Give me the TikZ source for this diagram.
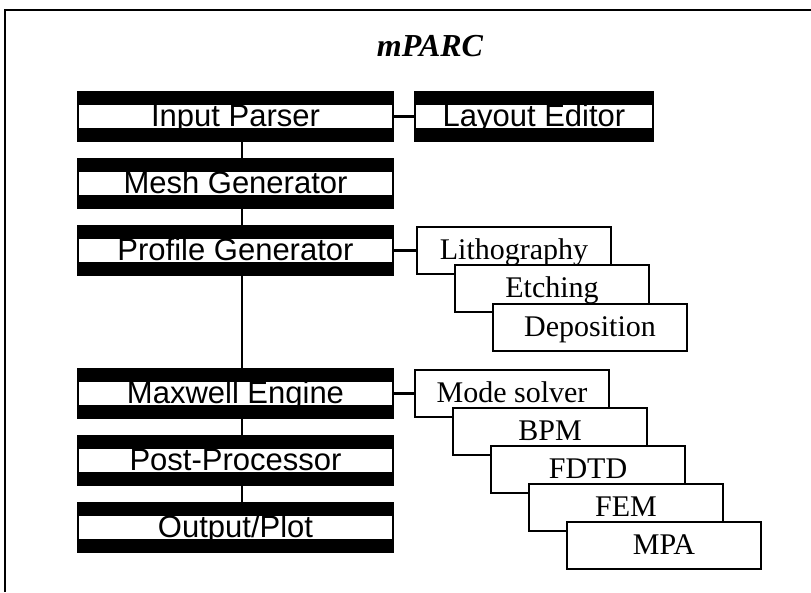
\documentclass[tikz,border=0pt]{standalone}
\usepackage{fontspec}
\setmainfont{Liberation Serif}
\setsansfont{Liberation Sans}
\usetikzlibrary{positioning}
\begin{document}
\begin{tikzpicture}[x=1pt,y=1pt,
  bar/.style={draw,line width=2.5pt,fill=white,minimum width=315pt,minimum height=49pt,inner sep=0pt,outer sep=0pt,
    text height=20pt,text depth=0pt,font=\sffamily\fontsize{31}{31}\selectfont,
    path picture={\fill[black] (path picture bounding box.north west) rectangle ([yshift=-13pt]path picture bounding box.north east);
      \fill[black] (path picture bounding box.south west) rectangle ([yshift=13pt]path picture bounding box.south east);}},
  sbox/.style={draw,line width=2pt,fill=white,minimum width=194pt,minimum height=47pt,inner sep=0pt,outer sep=0pt,
    text height=18pt,text depth=0pt,font=\fontsize{30}{30}\selectfont},
  link/.style={line width=2.2pt}]
  \useasboundingbox (0,0) rectangle (811,592);
  \draw[line width=1.8pt] (5,0) -- (5,582) -- (811,582);
  \node[font=\bfseries\itshape\fontsize{32}{32}\selectfont] (title) at (430,546) {mPARC};
  % main flow
  \node[bar] (ip) at (235.5,475.5) {Input Parser};
  \node[bar,below=18pt of ip] (mg) {Mesh Generator};
  \node[bar,below=18pt of mg] (pg) {Profile Generator};
  \node[bar,below=94pt of pg] (me) {Maxwell Engine};
  \node[bar,below=18pt of me] (pp) {Post-Processor};
  \node[bar,below=18pt of pp] (op) {Output/Plot};
  \node[bar,minimum width=238pt,right=22pt of ip] (le) {Layout Editor};
  \foreach \a/\b in {ip/mg,mg/pg,pg/me,me/pp,pp/op}
    \draw[link] ([xshift=6.5pt]\a.south) -- ([xshift=6.5pt]\b.north);
  \draw[link] (ip) -- (le);
  % process modules
  \node[sbox,right=24pt of pg] (litho) {Lithography};
  \node[sbox] (etch) at ([shift={(38,-38.5)}]litho) {Etching};
  \node[sbox] (depo) at ([shift={(38,-38.5)}]etch) {Deposition};
  \draw[link] (pg) -- (litho);
  % solvers
  \node[sbox,right=22pt of me] (mode) {Mode solver};
  \node[sbox] (bpm) at ([shift={(38,-38)}]mode) {BPM};
  \node[sbox] (fdtd) at ([shift={(38,-38)}]bpm) {FDTD};
  \node[sbox] (fem) at ([shift={(38,-38)}]fdtd) {FEM};
  \node[sbox] (mpa) at ([shift={(38,-38)}]fem) {MPA};
  \draw[link] (me) -- (mode);
\end{tikzpicture}
\end{document}
